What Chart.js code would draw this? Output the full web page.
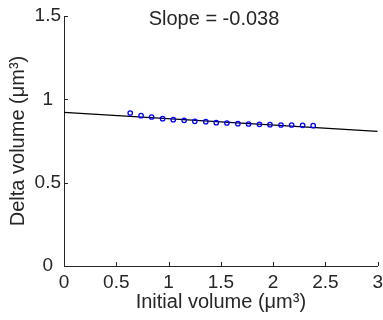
<!DOCTYPE html>
<html>
<head>
<meta charset="utf-8">
<script src="https://cdn.jsdelivr.net/npm/chart.js@4.4.0/dist/chart.umd.min.js"></script>
<style>
    html, body { margin: 0; padding: 0; background: #fff; }
</style>
</head>
<body>
<canvas id="graficoVolume" width="383" height="320"></canvas>
<script>
// dados
const volumeInicial = [0.633, 0.737, 0.838, 0.943, 1.045, 1.149, 1.251, 1.356, 1.456,
                       1.558, 1.663, 1.765, 1.869, 1.970, 2.075, 2.177, 2.282, 2.383];
const deltaVolume = [0.918, 0.902, 0.894, 0.884, 0.878, 0.874, 0.868, 0.866, 0.860,
                     0.858, 0.854, 0.852, 0.850, 0.848, 0.846, 0.846, 0.844, 0.842];
const ajusteX = [0, 3];
const ajusteY = [0.922, 0.808];
const ticksX = [0, 0.5, 1, 1.5, 2, 2.5, 3];
const ticksY = [0, 0.5, 1, 1.5];
const tituloTexto = "Slope = -0.038";

const corTexto = "#262626";
const fonte = "'Liberation Sans', Arial, sans-serif";

// marcas de escala para dentro (estilo matlab)
const marcasInternas = {
    id: "marcasInternas",
    afterDraw(chart) {
        const ctx = chart.ctx;
        const area = chart.chartArea;
        const sx = chart.scales.x;
        const sy = chart.scales.y;
        ctx.save();
        ctx.strokeStyle = corTexto;
        ctx.lineWidth = 1;
        ctx.beginPath();
        ticksX.forEach(v => {
            const px = Math.round(sx.getPixelForValue(v)) + 0.5;
            ctx.moveTo(px, area.bottom);
            ctx.lineTo(px, area.bottom - 4);
        });
        ticksY.forEach(v => {
            const py = Math.round(sy.getPixelForValue(v)) + 0.5;
            ctx.moveTo(area.left, py);
            ctx.lineTo(area.left + 4, py);
        });
        ctx.stroke();

        // titulo
        ctx.fillStyle = corTexto;
        ctx.font = "20px " + fonte;
        ctx.textAlign = "center";
        ctx.textBaseline = "middle";
        ctx.fillText(tituloTexto, 214, 19);
        ctx.restore();
    }
};

const pontos = volumeInicial.map((x, i) => ({ x: x, y: deltaVolume[i] }));
const reta = ajusteX.map((x, i) => ({ x: x, y: ajusteY[i] }));

new Chart(document.getElementById("graficoVolume"), {
    type: "scatter",
    data: {
        datasets: [
            {
                data: pontos,
                pointStyle: "circle",
                pointRadius: 2.2,
                pointBorderWidth: 1.3,
                pointBorderColor: "#0000ff",
                pointBackgroundColor: "rgba(0,0,0,0)",
                showLine: false
            },
            {
                data: reta,
                showLine: true,
                borderColor: "#000",
                borderWidth: 1.3,
                pointRadius: 0
            }
        ]
    },
    options: {
        responsive: false,
        animation: false,
        devicePixelRatio: 1,
        layout: { padding: { top: 16, right: 4, left: 0, bottom: 0 } },
        plugins: {
            legend: { display: false },
            tooltip: { enabled: false }
        },
        scales: {
            x: {
                type: "linear",
                min: 0,
                max: 3,
                grid: { display: false, drawTicks: false },
                border: { display: true, color: corTexto, width: 1 },
                ticks: {
                    padding: 5,
                    color: corTexto,
                    font: { family: fonte, size: 19 },
                    maxRotation: 0,
                    callback: v => String(v)
                },
                afterBuildTicks: s => { s.ticks = ticksX.map(v => ({ value: v })); },
                afterFit: s => { s.height = 54; s.paddingRight = 0; s.paddingLeft = 0; },
                title: {
                    display: true,
                    text: "Initial volume (μm³)",
                    color: corTexto,
                    font: { family: fonte, size: 20 },
                    padding: { top: 0, bottom: 6 }
                }
            },
            y: {
                type: "linear",
                min: 0,
                max: 1.5,
                grid: { display: false, drawTicks: false },
                border: { display: true, color: corTexto, width: 1 },
                ticks: {
                    padding: 3,
                    crossAlign: "center",
                    color: corTexto,
                    font: { family: fonte, size: 19 },
                    callback: v => String(v)
                },
                afterBuildTicks: s => { s.ticks = ticksY.map(v => ({ value: v })); },
                afterFit: s => { s.width = 64; s.paddingTop = 0; s.paddingBottom = 0; },
                title: {
                    display: true,
                    text: "Delta volume (μm³)",
                    color: corTexto,
                    font: { family: fonte, size: 20 },
                    padding: { top: 6, bottom: 0 }
                }
            }
        }
    },
    plugins: [marcasInternas]
});
</script>
</body>
</html>
